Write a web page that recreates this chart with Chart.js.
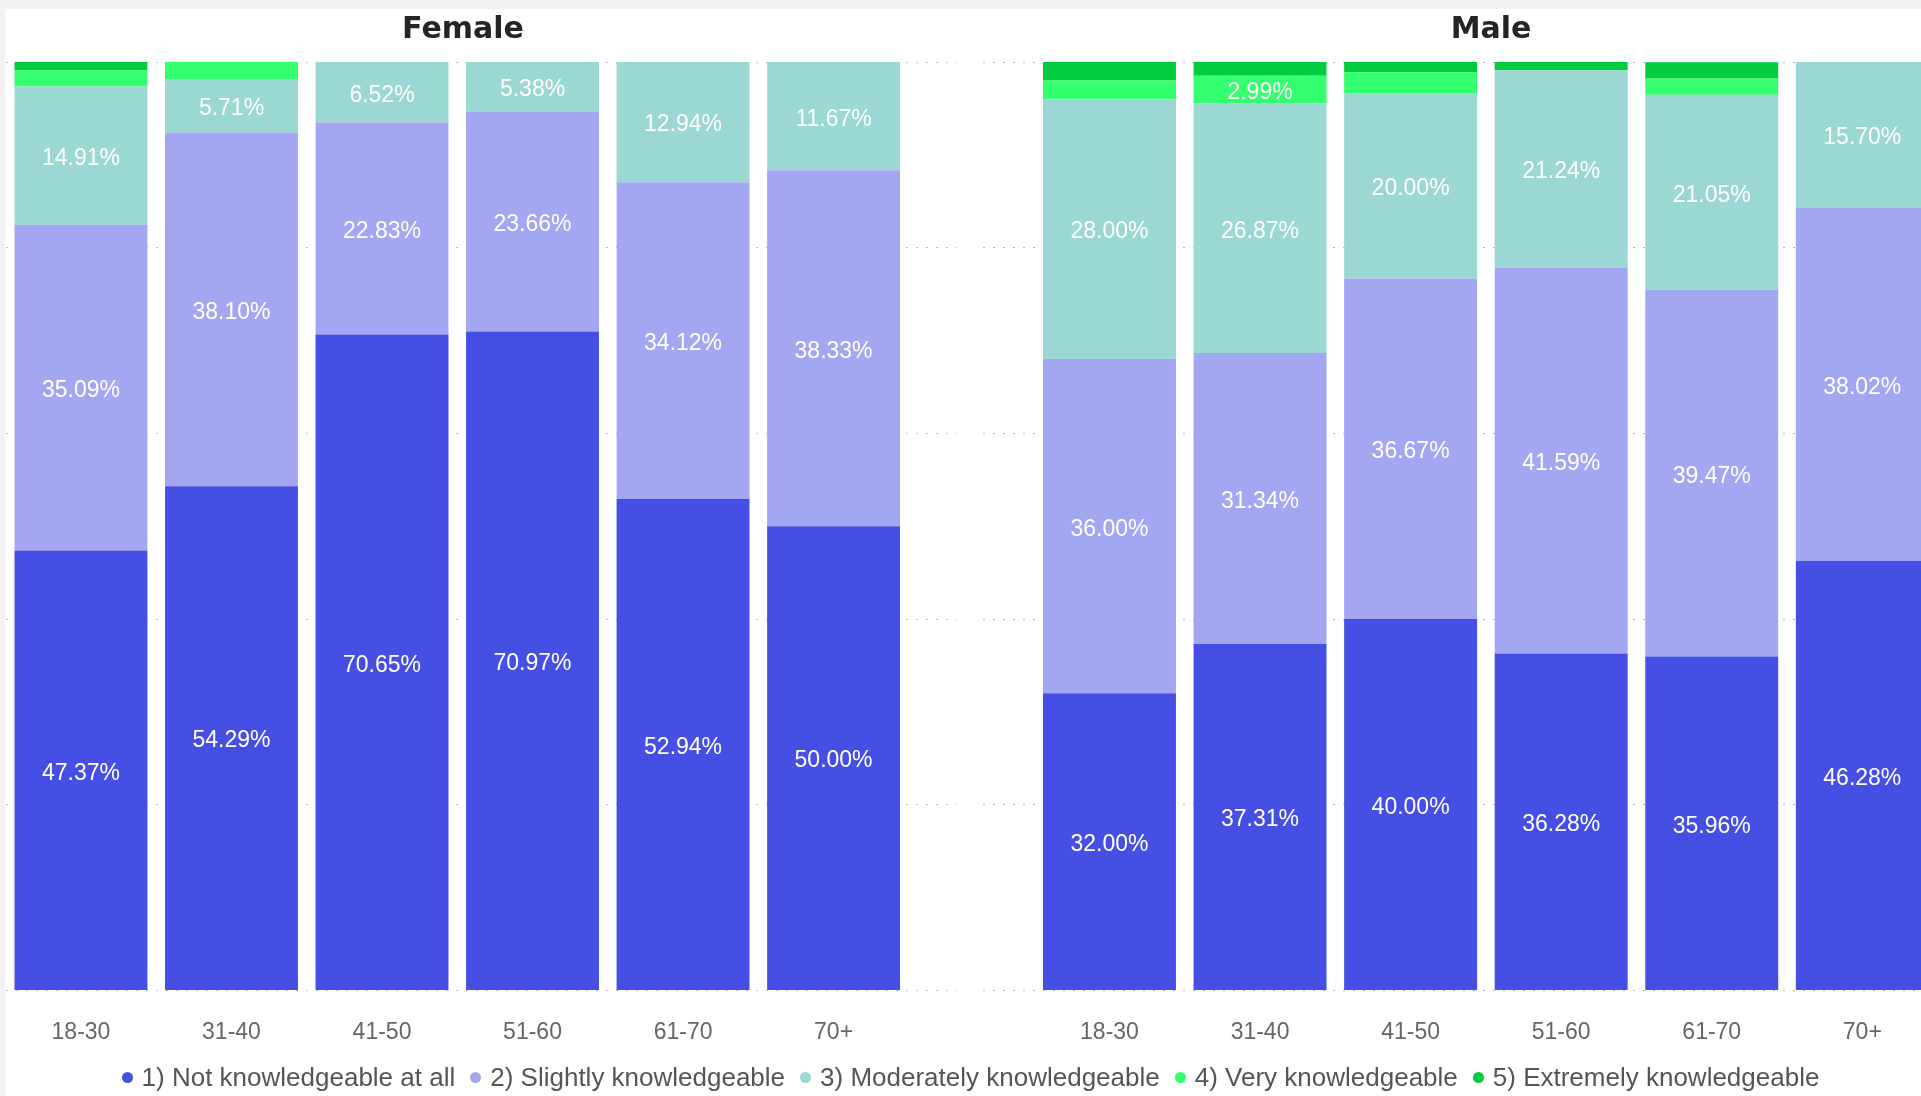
<!DOCTYPE html>
<html>
<head>
<meta charset="utf-8">
<script src="https://cdn.jsdelivr.net/npm/chart.js@4.4.0/dist/chart.umd.min.js"></script>
<style>
html,body{margin:0;padding:0;background:#f2f2f2;width:1921px;height:1096px;overflow:hidden;position:relative;}
#panel{position:absolute;left:5px;top:9px;right:0;bottom:0;background:#fff;}
.wrap{position:absolute;top:0;height:1096px;}
#fw{left:0;width:960px;}
#mw{left:960px;width:985px;}
.ttl{position:absolute;top:10px;font:bold 30px "DejaVu Sans",sans-serif;color:#252423;transform:translateX(-50%);line-height:36px;white-space:nowrap;}
#legend{position:absolute;left:0;width:1921px;top:1062px;height:30px;display:flex;justify-content:center;align-items:center;padding-left:20px;box-sizing:border-box;font:26px "Liberation Sans",Arial,sans-serif;color:#555;white-space:nowrap;}
#legend .item{display:flex;align-items:center;margin-right:15px;}
#legend .item:last-child{margin-right:0;}
#legend .dot{width:11px;height:11px;border-radius:50%;margin-right:9px;flex:none;}
</style>
</head>
<body>
<div id="panel"></div>
<div class="wrap" id="fw"><canvas id="female" width="960" height="1096"></canvas></div>
<div class="wrap" id="mw"><canvas id="male" width="985" height="1096"></canvas></div>
<div class="ttl" style="left:463px">Female</div>
<div class="ttl" style="left:1491px">Male</div>
<div id="legend"></div>
<script>
const ageGroups = ['18-30', '31-40', '41-50', '51-60', '61-70', '70+'];
const levels = ['1) Not knowledgeable at all', '2) Slightly knowledgeable', '3) Moderately knowledgeable', '4) Very knowledgeable', '5) Extremely knowledgeable'];
const levelColors = ['#464FE3', '#A3A6F1', '#9CD8D3', '#33FF6F', '#00CC3F'];

const femaleNotKnowledgeable = [47.37, 54.29, 70.65, 70.97, 52.94, 50.00];
const femaleSlightly = [35.09, 38.10, 22.83, 23.66, 34.12, 38.33];
const femaleModerately = [14.91, 5.71, 6.52, 5.38, 12.94, 11.67];
const femaleVery = [1.75, 1.90, 0, 0, 0, 0];
const femaleExtremely = [0.88, 0, 0, 0, 0, 0];

const maleNotKnowledgeable = [32.00, 37.31, 40.00, 36.28, 35.96, 46.28];
const maleSlightly = [36.00, 31.34, 36.67, 41.59, 39.47, 38.02];
const maleModerately = [28.00, 26.87, 20.00, 21.24, 21.05, 15.70];
const maleVery = [2.00, 2.99, 2.22, 0, 1.75, 0];
const maleExtremely = [2.00, 1.49, 1.11, 0.89, 1.75, 0];

const labelMin = 2.5;

const valueLabels = {
  id: 'valueLabels',
  afterDatasetsDraw(chart) {
    const ctx = chart.ctx;
    ctx.save();
    ctx.font = '23px "Liberation Sans", Arial, sans-serif';
    ctx.fillStyle = '#ffffff';
    ctx.textAlign = 'center';
    ctx.textBaseline = 'middle';
    chart.data.datasets.forEach((ds, di) => {
      const meta = chart.getDatasetMeta(di);
      meta.data.forEach((el, i) => {
        const v = ds.data[i].y;
        if (v == null || v < labelMin) return;
        const p = el.getProps(['x', 'y', 'base'], true);
        ctx.fillText(v.toFixed(2) + '%', p.x, (p.y + p.base) / 2 + 3);
      });
    });
    ctx.restore();
  }
};

function makeChart(id, seriesList, xMin, xMax, padLeft, padRight) {
  const datasets = seriesList.map((arr, k) => ({
    label: levels[k],
    data: arr.map((v, i) => ({x: i, y: v})),
    backgroundColor: levelColors[k],
    borderWidth: 0,
    categoryPercentage: 1,
    barPercentage: 0.883
  }));
  return new Chart(document.getElementById(id), {
    type: 'bar',
    data: {datasets},
    plugins: [valueLabels],
    options: {
      responsive: false,
      animation: false,
      devicePixelRatio: 1,
      layout: {padding: {left: padLeft, right: padRight, top: 62, bottom: 22}},
      plugins: {legend: {display: false}, tooltip: {enabled: false}, title: {display: false}},
      scales: {
        x: {
          type: 'linear',
          stacked: true,
          offset: false,
          min: xMin,
          max: xMax,
          grid: {display: false, drawTicks: false, offset: false},
          border: {display: false},
          afterBuildTicks: (scale) => { scale.ticks = ageGroups.map((_, i) => ({value: i})); },
          ticks: {
            autoSkip: false,
            maxRotation: 0,
            padding: 28,
            color: '#666666',
            font: {family: '"Liberation Sans", Arial, sans-serif', size: 23},
            callback: (value) => ageGroups[value] !== undefined ? ageGroups[value] : ''
          }
        },
        y: {
          stacked: true,
          min: 0,
          max: 100,
          afterFit: (scale) => { scale.width = 0; },
          ticks: {display: false, stepSize: 20},
          grid: {color: 'rgba(0,0,0,0.28)', lineWidth: 1, drawTicks: false, borderDash: [2, 8]},
          border: {display: false, dash: [2, 8]}
        }
      }
    }
  });
}

makeChart('female', [femaleNotKnowledgeable, femaleSlightly, femaleModerately, femaleVery, femaleExtremely], -0.5, 5.82, 5.7, 3);
makeChart('male', [maleNotKnowledgeable, maleSlightly, maleModerately, maleVery, maleExtremely], -0.84, 5.5, 23, 7.4);

const legend = document.getElementById('legend');
levels.forEach((name, k) => {
  const item = document.createElement('div');
  item.className = 'item';
  const dot = document.createElement('span');
  dot.className = 'dot';
  dot.style.background = levelColors[k];
  const txt = document.createElement('span');
  txt.textContent = name;
  item.appendChild(dot);
  item.appendChild(txt);
  legend.appendChild(item);
});
</script>
</body>
</html>
